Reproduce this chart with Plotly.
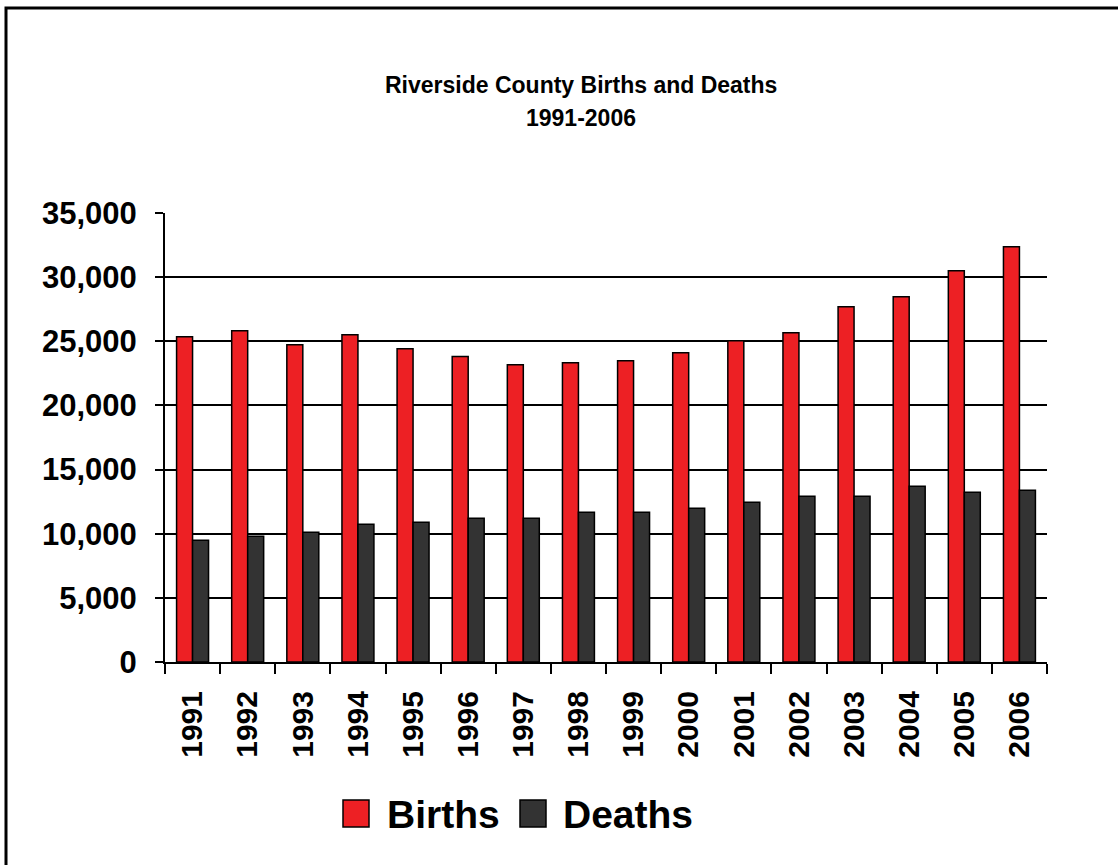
import plotly.graph_objects as go

years = [str(y) for y in range(1991, 2007)]
births = [25350, 25820, 24730, 25510, 24420, 23820, 23170, 23330,
          23490, 24110, 25040, 25670, 27690, 28470, 30490, 32360]
deaths = [9500, 9810, 10120, 10740, 10900, 11210, 11210, 11680,
          11680, 11990, 12460, 12920, 12920, 13700, 13240, 13390]

W, H = 1118, 865
L, R, T, B = 165, 71, 213, 203
FONT = "Liberation Sans, Arial, sans-serif"
RED = "#ED2024"
DARK = "#333333"


def px_x(p):
    return (p - L) / (W - L - R)


def px_y(p):
    return (H - B - p) / (H - T - B)


fig = go.Figure()
fig.add_trace(go.Bar(x=years, y=births, name="Births", marker_color=RED,
                     marker_line=dict(color="black", width=1.5)))
fig.add_trace(go.Bar(x=years, y=deaths, name="Deaths", marker_color=DARK,
                     marker_line=dict(color="black", width=1.5)))

fig.update_layout(
    width=W, height=H,
    margin=dict(l=L, r=R, t=T, b=B, pad=0),
    paper_bgcolor="white", plot_bgcolor="white",
    barmode="group", bargap=0.42, bargroupgap=0,
    showlegend=False,
    font=dict(family=FONT, color="black"),
)
fig.update_yaxes(
    range=[0, 35000], dtick=5000, tickformat=",d",
    showgrid=True, gridcolor="black", gridwidth=1.5,
    showline=True, linecolor="black", linewidth=2,
    ticks="outside", ticklen=8, tickwidth=1.5, tickcolor="black",
    tickfont=dict(size=31, weight="bold"), ticklabelstandoff=12,
    zeroline=False,
)
fig.update_xaxes(
    tickangle=-90, tickson="boundaries",
    showline=True, linecolor="black", linewidth=2,
    ticks="outside", ticklen=10, tickwidth=1.5, tickcolor="black",
    tickfont=dict(size=30, weight="bold"), ticklabelstandoff=15,
)

# title lines
fig.add_annotation(text="<b>Riverside County Births and Deaths</b>", xref="paper", yref="paper",
                   x=px_x(581), y=px_y(85), showarrow=False, font=dict(size=23),
                   xanchor="center", yanchor="middle")
fig.add_annotation(text="<b>1991-2006</b>", xref="paper", yref="paper",
                   x=px_x(581), y=px_y(118), showarrow=False, font=dict(size=23),
                   xanchor="center", yanchor="middle")

# outer frame (right and bottom edges fall outside the picture)
fig.add_shape(type="rect", xref="paper", yref="paper",
              x0=px_x(6), x1=px_x(W + 20), y0=px_y(H + 20), y1=px_y(8),
              line=dict(color="black", width=3), layer="above")

# legend
for name, color, sx, tx in [("Births", RED, 343, 385), ("Deaths", DARK, 520, 561)]:
    fig.add_shape(type="rect", xref="paper", yref="paper",
                  x0=px_x(sx), x1=px_x(sx + 26), y0=px_y(827), y1=px_y(800),
                  fillcolor=color, line=dict(color="black", width=1.5))
    fig.add_annotation(text="<b>%s</b>" % name, xref="paper", yref="paper",
                       x=px_x(tx), y=px_y(814), showarrow=False, font=dict(size=39),
                       xanchor="left", yanchor="middle")

fig.write_html("out.html", config={"displayModeBar": False},
               post_script="document.body.style.margin='0';")
